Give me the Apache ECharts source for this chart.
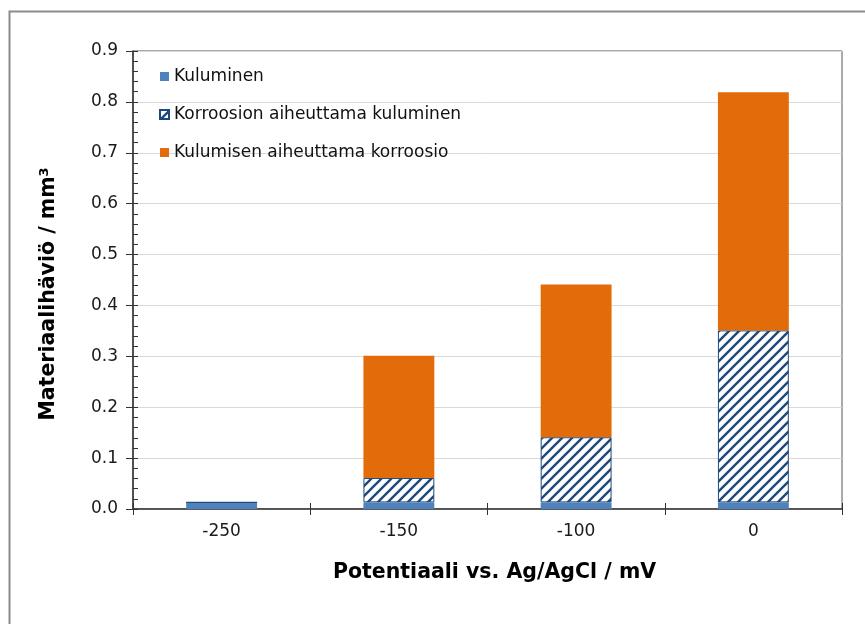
<!DOCTYPE html>
<html>
<head>
<meta charset="utf-8">
<script src="https://cdn.jsdelivr.net/npm/echarts@6/dist/echarts.min.js"></script>
<style>
html,body{margin:0;padding:0;background:#fff;}
#chart{width:865px;height:624px;}
</style>
</head>
<body>
<div id="chart"></div>
<script>
const categories = ['-250', '-150', '-100', '0'];
const kuluminen = [0.013, 0.013, 0.013, 0.013];
const korroosionKuluminen = [0, 0.048, 0.128, 0.338];
const kulumisenKorroosio = [0, 0.24, 0.30, 0.468];
const yTicks = { min: 0, max: 0.9, interval: 0.1 };
const seriesNames = ['Kuluminen', 'Korroosion aiheuttama kuluminen', 'Kulumisen aiheuttama korroosio'];

function hatch() {
  const c = document.createElement('canvas');
  const s = 10;
  c.width = s; c.height = s;
  const ctx = c.getContext('2d');
  ctx.fillStyle = '#ffffff';
  ctx.fillRect(0, 0, s, s);
  ctx.strokeStyle = '#1F497D';
  ctx.lineWidth = 2.4;
  ctx.beginPath();
  ctx.moveTo(-s, s * 2); ctx.lineTo(s * 2, -s);
  ctx.moveTo(-s, s); ctx.lineTo(s, -s);
  ctx.moveTo(0, s * 2); ctx.lineTo(s * 2, 0);
  ctx.stroke();
  return c;
}

const FONT = '"DejaVu Sans", Verdana, sans-serif';
const chart = echarts.init(document.getElementById('chart'), null, { renderer: 'canvas' });
const grid = { left: 133, right: 23, top: 51, bottom: 115, show: true, borderColor: '#555', borderWidth: 1, backgroundColor: 'transparent' };

chart.setOption({
  animation: false,
  backgroundColor: '#fff',
  graphic: [{
    type: 'rect', left: 7, top: 9, shape: { width: 880, height: 640 },
    style: { fill: 'none', stroke: '#8c8c8c', lineWidth: 2 }, z: -1
  }],
  grid: grid,
  legend: {
    orient: 'vertical', left: 154, top: 63, itemWidth: 9, itemHeight: 9, itemGap: 21,
    icon: 'rect',
    textStyle: { fontFamily: FONT, fontSize: 17, color: '#111' },
    data: seriesNames
  },
  xAxis: [{
    type: 'category', data: categories,
    axisLine: { lineStyle: { color: '#333', width: 1.5 } },
    axisTick: { show: true, alignWithLabel: false, length: 6, lineStyle: { color: '#333' } },
    axisLabel: { fontFamily: FONT, fontSize: 17, color: '#1a1a1a', margin: 14 },
    name: 'Potentiaali vs. Ag/AgCl / mV', nameLocation: 'middle', nameGap: 53,
    nameTextStyle: { fontFamily: FONT, fontSize: 20.5, fontWeight: 'bold', color: '#000', padding: [0, 0, 0, 14] }
  }, {
    type: 'category', data: categories, position: 'bottom',
    axisLine: { show: false },
    axisTick: { show: true, inside: true, alignWithLabel: false, length: 6, lineStyle: { color: '#333' } },
    axisLabel: { show: false }
  }],
  yAxis: [{
    type: 'value', min: yTicks.min, max: yTicks.max, interval: yTicks.interval,
    axisLine: { show: true, lineStyle: { color: '#333', width: 1.5 } },
    axisTick: { show: true, length: 7, lineStyle: { color: '#333' } },
    axisLabel: { fontFamily: FONT, fontSize: 17, color: '#1a1a1a', margin: 15, formatter: v => v.toFixed(1) },
    splitLine: { show: true, lineStyle: { color: '#d9d9d9', width: 1 } },
    name: '{a|Materiaalihäviö / mm}{s|3}', nameLocation: 'middle', nameGap: 73, nameRotate: 90,
    nameTextStyle: {
      fontFamily: FONT, fontSize: 20.5, fontWeight: 'bold', color: '#000', padding: [0, 28, 0, 0],
      rich: {
        a: { fontFamily: FONT, fontSize: 20.5, fontWeight: 'bold', color: '#000' },
        s: { fontFamily: FONT, fontSize: 13, fontWeight: 'bold', color: '#000', verticalAlign: 'top', padding: [0, 0, 9, 0] }
      }
    }
  }, {
    type: 'value', min: yTicks.min, max: yTicks.max, interval: yTicks.interval, position: 'left',
    axisLine: { show: false },
    axisTick: { show: true, inside: true, length: 5, lineStyle: { color: '#333' } },
    minorTick: { show: true, splitNumber: 5, length: 5, lineStyle: { color: '#333' } },
    axisLabel: { show: false }, splitLine: { show: false }
  }],
  series: [{
    name: seriesNames[0], type: 'bar', stack: 'a', data: kuluminen, barWidth: '40%',
    itemStyle: { color: '#4F81BD' }
  }, {
    name: seriesNames[1], type: 'bar', stack: 'a', data: korroosionKuluminen, barWidth: '40%',
    itemStyle: { color: { image: hatch(), repeat: 'repeat' }, borderColor: '#1F497D', borderWidth: 1 }
  }, {
    name: seriesNames[2], type: 'bar', stack: 'a', data: kulumisenKorroosio, barWidth: '40%',
    itemStyle: { color: '#E36C0A' }
  }]
});
</script>
</body>
</html>
